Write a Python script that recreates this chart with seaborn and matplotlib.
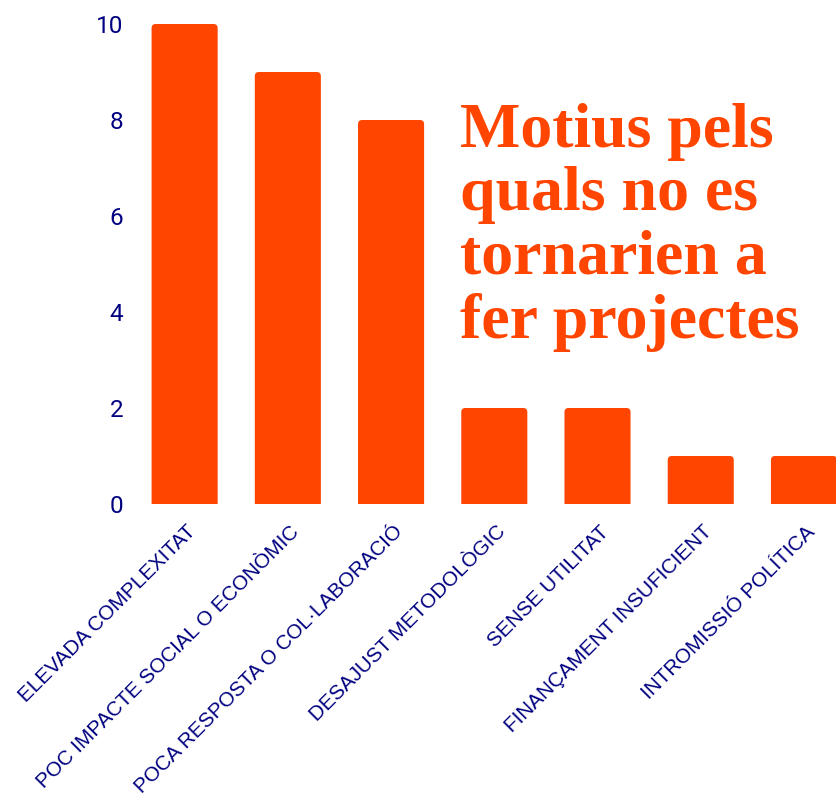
import matplotlib
matplotlib.use("Agg")
import matplotlib.pyplot as plt
import matplotlib.transforms as mtransforms
from matplotlib.patches import FancyBboxPatch
import seaborn as sns
import pandas as pd

# Dades
motius = [
    "ELEVADA COMPLEXITAT",
    "POC IMPACTE SOCIAL O ECONÒMIC",
    "POCA RESPOSTA O COL·LABORACIÓ",
    "DESAJUST METODOLÒGIC",
    "SENSE UTILITAT",
    "FINANÇAMENT INSUFICIENT",
    "INTROMISSIÓ POLÍTICA",
]
respostes = [10, 9, 8, 2, 2, 1, 1]
yticks = [0, 2, 4, 6, 8, 10]
titol = "Motius pels\nquals no es\ntornarien a\nfer projectes"

BAR = "#FF4500"
TEXT = "#000080"

sns.set_theme(style="white")
fig = plt.figure(figsize=(8.37, 7.96), dpi=100)
ax = fig.add_axes([133 / 837, 1 - 504 / 796, (837 - 133) / 837, 480 / 796])

df = pd.DataFrame({"motiu": motius, "n": respostes})
sns.barplot(data=df, x="motiu", y="n", color=BAR, width=0.64, saturation=1, ax=ax)

# barres amb les cantonades de dalt arrodonides
for p in list(ax.patches):
    x, w, h = p.get_x(), p.get_width(), p.get_height()
    p.remove()
    ax.add_patch(FancyBboxPatch((x, -0.3), w, h + 0.3,
                                boxstyle="round,pad=0,rounding_size=0.04",
                                mutation_aspect=2.1, fc=BAR, ec="none"))

ax.set_xlim(-0.5, 6.32)
ax.set_ylim(0, 10)
sns.despine(ax=ax, left=True, bottom=True)
ax.set_xlabel("")
ax.set_ylabel("")
ax.tick_params(length=0)

ax.set_yticks(yticks)
ax.set_yticklabels([str(t) for t in yticks], family="Roboto", fontsize=17.5, color=TEXT)
ax.tick_params(axis="y", pad=7)

ax.set_xticks(range(len(motius)))
ax.set_xticklabels(motius, rotation=45, ha="right", va="top",
                   family="Liberation Sans", fontsize=14.9, color=TEXT)
ax.tick_params(axis="x", pad=13)
offset = mtransforms.ScaledTranslation(15 / 100, 0, fig.dpi_scale_trans)
for lbl in ax.get_xticklabels():
    lbl.set_transform(lbl.get_transform() + offset)

fig.text(460 / 837, 1 - 103 / 796, titol, family="Liberation Serif", weight="bold",
         fontsize=46, color=BAR, ha="left", va="top", linespacing=1.12)

fig.savefig("out.png", dpi=100)
